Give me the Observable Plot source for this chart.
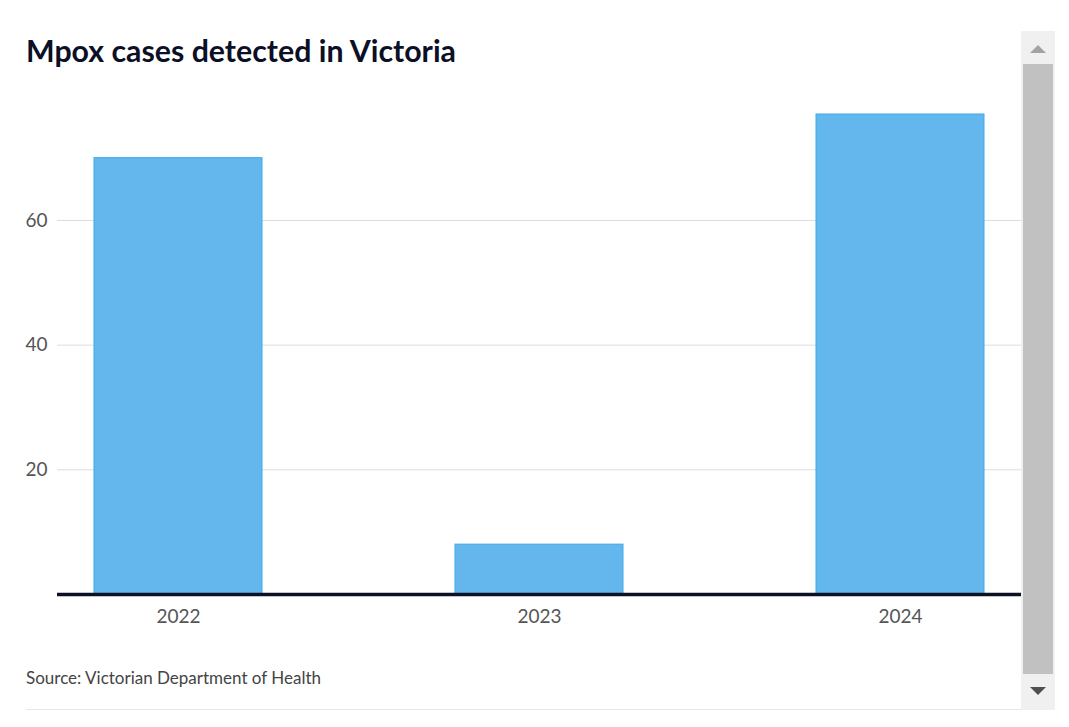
<!DOCTYPE html>
<html>
<head>
<meta charset="utf-8">
<script src="https://cdn.jsdelivr.net/npm/d3@7"></script>
<script src="https://cdn.jsdelivr.net/npm/@observablehq/plot@0.6"></script>
<style>
  html, body { margin: 0; padding: 0; background: #fff; }
  body { width: 1069px; height: 727px; position: relative; overflow: hidden; font-family: Lato, "Open Sans", sans-serif; }
  #title { position: absolute; left: 26px; top: 35px; font-size: 30.3px; line-height: 30px; font-weight: 700; color: #0b1026; white-space: nowrap; }
  #chart { position: absolute; left: 0; top: 80px; }
  #caption { position: absolute; left: 26px; top: 669px; font-size: 17px; line-height: 17px; color: #444; white-space: nowrap; }
  #rule { position: absolute; left: 26px; top: 709px; width: 995px; height: 1px; background: #e6e6e6; }
  #sb { position: absolute; left: 1021px; top: 31px; width: 34px; height: 679px; background: #f0f0f0; }
  #thumb { position: absolute; left: 2px; top: 33px; width: 30px; height: 610px; background: #c1c1c1; }
  #up { position: absolute; left: 9px; top: 14px; width: 0; height: 0; border-left: 8px solid transparent; border-right: 8px solid transparent; border-bottom: 8px solid #a3a3a3; }
  #down { position: absolute; left: 9px; top: 656px; width: 0; height: 0; border-left: 8px solid transparent; border-right: 8px solid transparent; border-top: 8px solid #505050; }
</style>
</head>
<body>
<div id="title">Mpox cases detected in Victoria</div>
<div id="chart"></div>
<div id="caption">Source: Victorian Department of Health</div>
<div id="rule"></div>
<div id="sb"><div id="up"></div><div id="thumb"></div><div id="down"></div></div>
<script>
const years = ["2022", "2023", "2024"];
const cases = [70, 8, 77];
const yTicks = [20, 40, 60];

const data = years.map((y, i) => ({year: y, cases: cases[i]}));

const chart = Plot.plot({
  width: 1021,
  height: 560,
  marginLeft: 57,
  marginRight: 0,
  marginTop: 34,
  marginBottom: 46,
  style: {fontFamily: "Lato, 'Open Sans', sans-serif", fontSize: "19px", color: "#555", background: "transparent"},
  x: {domain: years, paddingInner: 0.535, paddingOuter: 0.0995, label: null},
  y: {domain: [0, 77], label: null},
  marks: [
    Plot.gridY(yTicks, {stroke: "#dddddd", strokeOpacity: 1, strokeWidth: 1}),
    Plot.barY(data, {x: "year", y: "cases", fill: "#63b7ec", stroke: "#3fa9ea", strokeWidth: 1}),
    Plot.ruleY([0], {stroke: "#0d1126", strokeWidth: 3.5}),
    Plot.axisY(yTicks, {tickSize: 0, tickPadding: 10, label: null, fill: "#555", fontSize: 19}),
    Plot.axisX({tickSize: 0, tickPadding: 15, label: null, fill: "#555", fontSize: 19})
  ]
});
document.getElementById("chart").appendChild(chart);
</script>
</body>
</html>
